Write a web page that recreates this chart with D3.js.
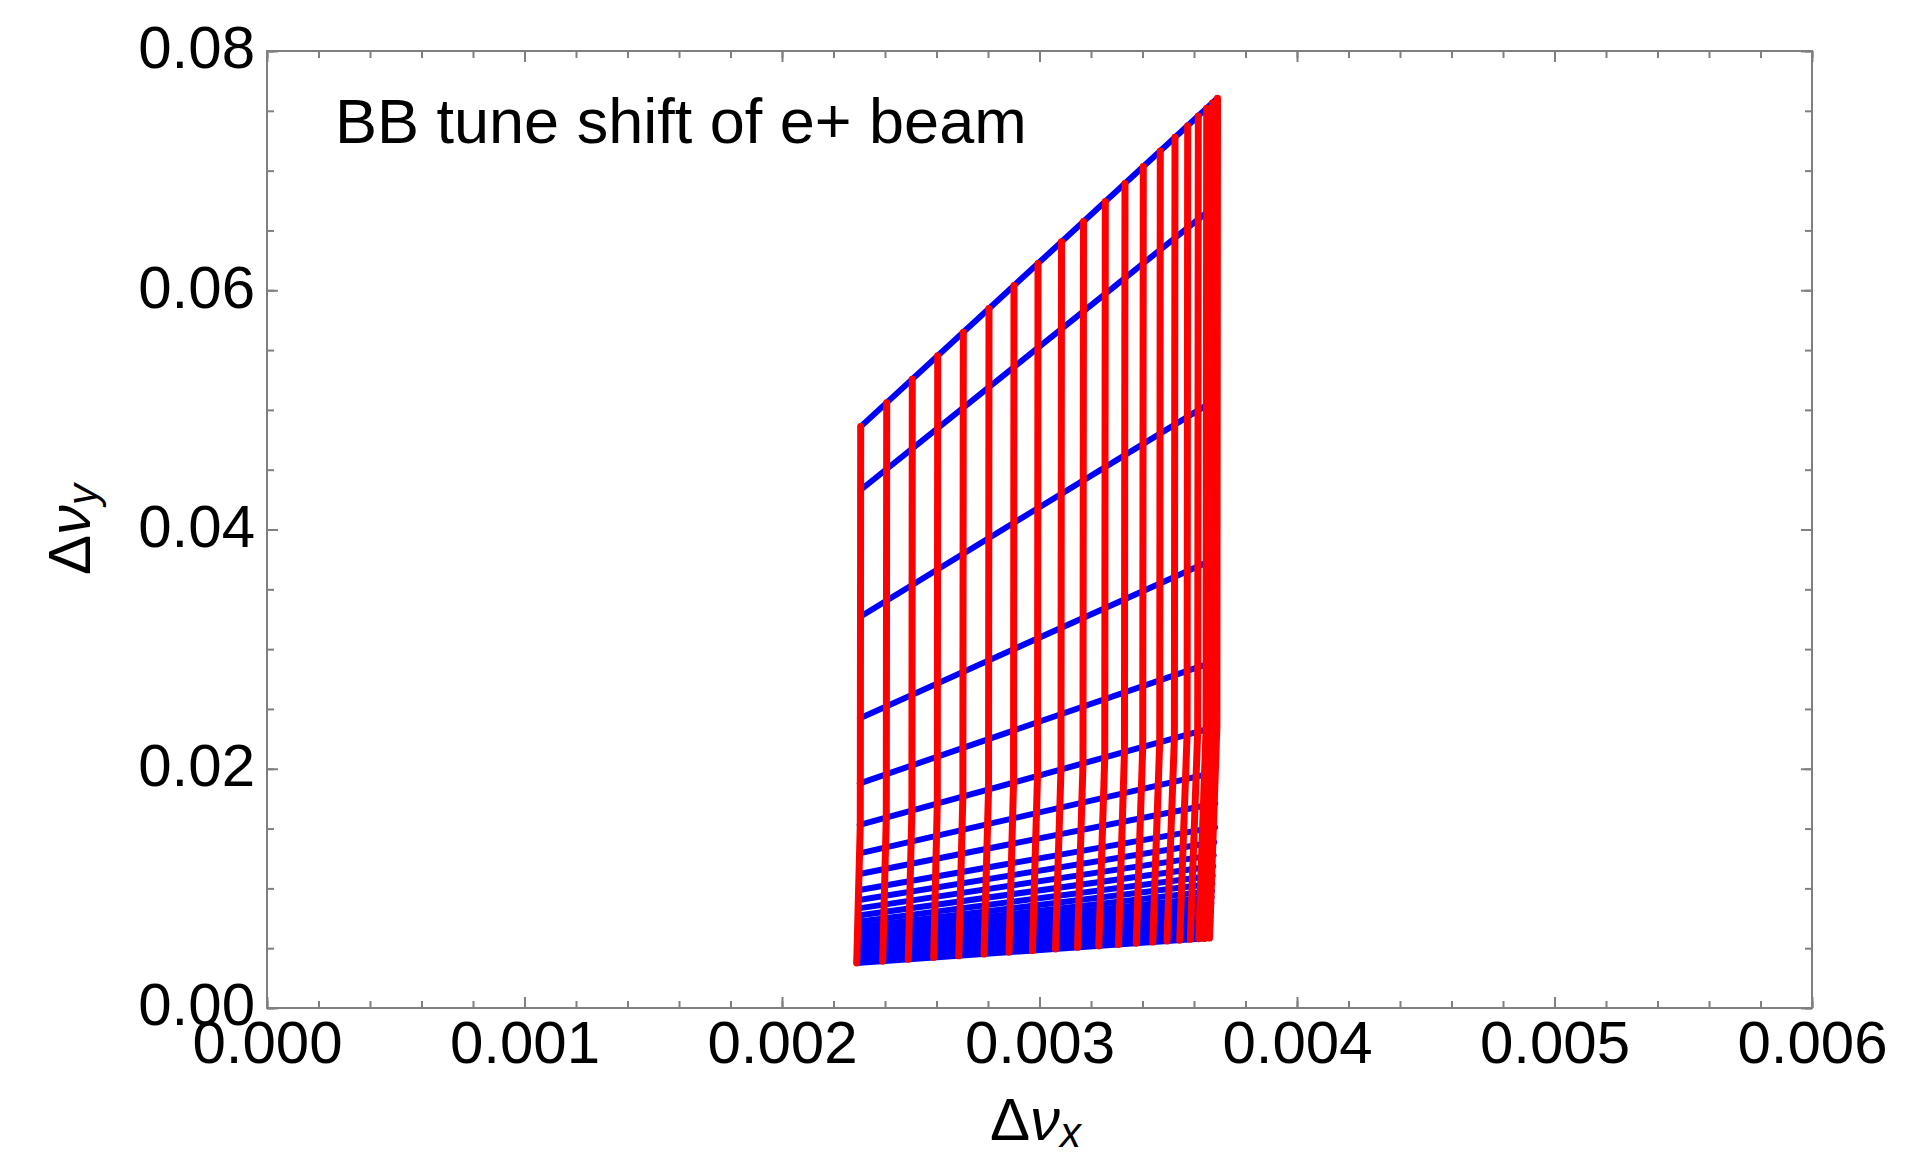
<!DOCTYPE html>
<html>
<head>
<meta charset="utf-8">
<script src="https://cdn.jsdelivr.net/npm/d3@7"></script>
<style>
  body { margin: 0; background: #fff; }
</style>
</head>
<body>
<div id="chart"></div>
<script>
"use strict";

const width = 1931,
  height = 1157;

const margin = {
  top: 51,
  right: 119,
  bottom: 149,
  left: 267,
};

const fontFamily = "'Liberation Sans', Arial, Helvetica, sans-serif",
  frameColor = "#808080";

// Axis ticks
const xTickValues = [0, 0.001, 0.002, 0.003, 0.004, 0.005, 0.006],
  xTickLabels = ["0.000", "0.001", "0.002", "0.003", "0.004", "0.005", "0.006"],
  yTickValues = [0, 0.02, 0.04, 0.06, 0.08],
  yTickLabels = ["0.00", "0.02", "0.04", "0.06", "0.08"];

const titleText = "BB tune shift of e+ beam";

// Red lines (constant x amplitude): top end, knee, bottom end  (Δνx, Δνy)
const redTopX = [
  0.0023056, 0.0024066, 0.002506, 0.0026047, 0.0027041, 0.0028039, 0.002901,
  0.0029942, 0.0030854, 0.0031709, 0.0032555, 0.003332, 0.0034031, 0.0034691,
  0.0035262, 0.0035755, 0.0036167, 0.0036493, 0.0036718, 0.0036913,
];
const redTopY = [
  0.0486, 0.0506, 0.05257, 0.05453, 0.05649, 0.05847, 0.0604, 0.06224, 0.06405,
  0.06574, 0.06742, 0.06893, 0.07034, 0.07165, 0.07278, 0.07376, 0.07457,
  0.07522, 0.07566, 0.07605,
];
const redKneeX = [
  0.002304, 0.002405, 0.0025044, 0.0026031, 0.0027024, 0.0028021, 0.0028992,
  0.0029923, 0.0030834, 0.0031689, 0.0032534, 0.0033299, 0.0034009, 0.0034668,
  0.0035238, 0.0035731, 0.0036143, 0.0036469, 0.0036694, 0.0036889,
];
const redKneeY = [
  0.0153, 0.0159, 0.01649, 0.01708, 0.01767, 0.01826, 0.01883, 0.01939,
  0.01993, 0.02044, 0.02094, 0.02139, 0.02181, 0.0222, 0.02254, 0.02284,
  0.02308, 0.02327, 0.02341, 0.02352,
];
const redBottomX = [
  0.0022901, 0.0023911, 0.0024905, 0.0025891, 0.0026866, 0.0027845, 0.0028816,
  0.0029728, 0.0030621, 0.0031476, 0.0032303, 0.0033068, 0.0033759, 0.00344,
  0.0034951, 0.0035445, 0.0035856, 0.0036183, 0.0036408, 0.0036602,
];
const redBottomY = [
  0.00376, 0.00391, 0.00407, 0.00422, 0.00436, 0.00451, 0.00466, 0.0048,
  0.00494, 0.00507, 0.00519, 0.00531, 0.00542, 0.00551, 0.0056, 0.00567,
  0.00574, 0.00579, 0.00582, 0.00585,
];

// Blue lines (constant y amplitude): left end and right end  (Δνx, Δνy)
const blueLeftX = [
  0.0023056, 0.002305, 0.0023037, 0.0023027, 0.002302, 0.0023016, 0.0023013,
  0.0023011, 0.0023009, 0.0022994, 0.0022982, 0.0022971, 0.0022962, 0.0022954,
  0.0022948, 0.0022941, 0.0022936, 0.0022931, 0.0022926, 0.0022922, 0.0022918,
  0.0022915, 0.0022911, 0.0022908, 0.0022906, 0.0022903, 0.0022901,
];
const blueLeftY = [
  0.0486, 0.0433, 0.03271, 0.02422, 0.01878, 0.0153, 0.01293, 0.0112, 0.00986,
  0.00903, 0.00833, 0.00773, 0.00722, 0.00678, 0.00639, 0.00604, 0.00573,
  0.00545, 0.00519, 0.00495, 0.00473, 0.00453, 0.00434, 0.00417, 0.00402,
  0.00388, 0.00376,
];
const blueRightX = [
  0.0036913, 0.00369, 0.0036875, 0.0036855, 0.0036842, 0.0036834, 0.0036828,
  0.0036824, 0.003682, 0.003679, 0.0036765, 0.0036745, 0.0036727, 0.0036711,
  0.0036697, 0.0036685, 0.0036673, 0.0036663, 0.0036653, 0.0036644, 0.0036636,
  0.0036628, 0.0036621, 0.0036615, 0.003661, 0.0036606, 0.0036602,
];
const blueRightY = [
  0.07605, 0.0672, 0.0509, 0.0376, 0.029, 0.0235, 0.0197, 0.0171, 0.0151,
  0.01385, 0.01278, 0.01185, 0.01106, 0.01038, 0.00979, 0.00925, 0.00878,
  0.00836, 0.00797, 0.0076, 0.00727, 0.00696, 0.00667, 0.00641, 0.00617,
  0.006, 0.00585,
];

const redLines = redTopX.map((d, i) => [
  [d, redTopY[i]],
  [redKneeX[i], redKneeY[i]],
  [redBottomX[i], redBottomY[i]],
]);
const blueLines = blueLeftX.map((d, i) => [
  [d, blueLeftY[i]],
  [blueRightX[i], blueRightY[i]],
]);

const svg = d3
  .select("#chart")
  .append("svg")
  .attr("width", width)
  .attr("height", height)
  .attr("viewBox", [0, 0, width, height]);

const x = d3
  .scaleLinear()
  .domain([0, 0.006])
  .range([margin.left, width - margin.right]);
const y = d3
  .scaleLinear()
  .domain([0, 0.08])
  .range([height - margin.bottom, margin.top]);

const styleAxis = (g) =>
  g
    .attr("font-size", 60)
    .attr("font-family", fontFamily)
    .call((g) => g.select(".domain").remove())
    .call((g) =>
      g.selectAll(".tick line").attr("stroke", frameColor).attr("stroke-width", 2)
    )
    .call((g) => g.selectAll(".tick text").attr("fill", "#000"));

// minor ticks, all four sides
svg
  .append("g")
  .attr("transform", `translate(0,${y(0)})`)
  .call(d3.axisBottom(x).tickValues(x.ticks(30)).tickFormat("").tickSizeInner(-7).tickSizeOuter(0))
  .call(styleAxis);
svg
  .append("g")
  .attr("transform", `translate(0,${y(0.08)})`)
  .call(d3.axisTop(x).tickValues(x.ticks(30)).tickFormat("").tickSizeInner(-7).tickSizeOuter(0))
  .call(styleAxis);
svg
  .append("g")
  .attr("transform", `translate(${x(0)},0)`)
  .call(d3.axisLeft(y).tickValues(y.ticks(16)).tickFormat("").tickSizeInner(-7).tickSizeOuter(0))
  .call(styleAxis);
svg
  .append("g")
  .attr("transform", `translate(${x(0.006)},0)`)
  .call(d3.axisRight(y).tickValues(y.ticks(16)).tickFormat("").tickSizeInner(-7).tickSizeOuter(0))
  .call(styleAxis);

// major ticks with labels
svg
  .append("g")
  .attr("transform", `translate(0,${y(0)})`)
  .call(
    d3
      .axisBottom(x)
      .tickValues(xTickValues)
      .tickFormat((d, i) => xTickLabels[i])
      .tickSizeInner(-11)
      .tickSizeOuter(0)
      .tickPadding(12)
  )
  .call(styleAxis);
svg
  .append("g")
  .attr("transform", `translate(0,${y(0.08)})`)
  .call(d3.axisTop(x).tickValues(xTickValues).tickFormat("").tickSizeInner(-11).tickSizeOuter(0))
  .call(styleAxis);
svg
  .append("g")
  .attr("transform", `translate(${x(0)},0)`)
  .call(
    d3
      .axisLeft(y)
      .tickValues(yTickValues)
      .tickFormat((d, i) => yTickLabels[i])
      .tickSizeInner(-11)
      .tickSizeOuter(0)
      .tickPadding(12)
  )
  .call(styleAxis)
  .call((g) => g.selectAll(".tick text").attr("dy", "0.28em"));
svg
  .append("g")
  .attr("transform", `translate(${x(0.006)},0)`)
  .call(d3.axisRight(y).tickValues(yTickValues).tickFormat("").tickSizeInner(-11).tickSizeOuter(0))
  .call(styleAxis);

// frame
svg
  .append("rect")
  .attr("x", x(0))
  .attr("y", y(0.08))
  .attr("width", x(0.006) - x(0))
  .attr("height", y(0) - y(0.08))
  .attr("fill", "none")
  .attr("stroke", frameColor)
  .attr("stroke-width", 2);

const line = d3
  .line()
  .x((d) => x(d[0]))
  .y((d) => y(d[1]));

svg
  .append("g")
  .selectAll("path")
  .data(blueLines)
  .join("path")
  .attr("d", line)
  .attr("fill", "none")
  .attr("stroke", "#0000ff")
  .attr("stroke-width", 6)
  .attr("stroke-linecap", "round");

svg
  .append("g")
  .selectAll("path")
  .data(redLines)
  .join("path")
  .attr("d", line)
  .attr("fill", "none")
  .attr("stroke", "#ff0000")
  .attr("stroke-width", 7)
  .attr("stroke-linecap", "round")
  .attr("stroke-linejoin", "round");

// title inside the frame
svg
  .append("text")
  .attr("x", 335)
  .attr("y", 143)
  .attr("font-family", fontFamily)
  .attr("font-size", 63)
  .attr("fill", "#000")
  .text(titleText);

// axis labels: Δν with italic subscript
function axisLabel(g, sub) {
  g.attr("font-family", fontFamily)
    .attr("font-size", 60)
    .attr("fill", "#000")
    .attr("text-anchor", "middle");
  g.append("tspan").text("Δ");
  g.append("tspan").attr("font-style", "italic").text("ν");
  g.append("tspan")
    .attr("font-style", "italic")
    .attr("font-size", 42)
    .attr("dy", 7)
    .text(sub);
}

svg
  .append("text")
  .attr("x", (x(0) + x(0.006)) / 2 - 4)
  .attr("y", 1140)
  .call(axisLabel, "x");

svg
  .append("text")
  .attr("transform", `translate(90,${(y(0) + y(0.08)) / 2}) rotate(-90)`)
  .call(axisLabel, "y");
</script>
</body>
</html>
